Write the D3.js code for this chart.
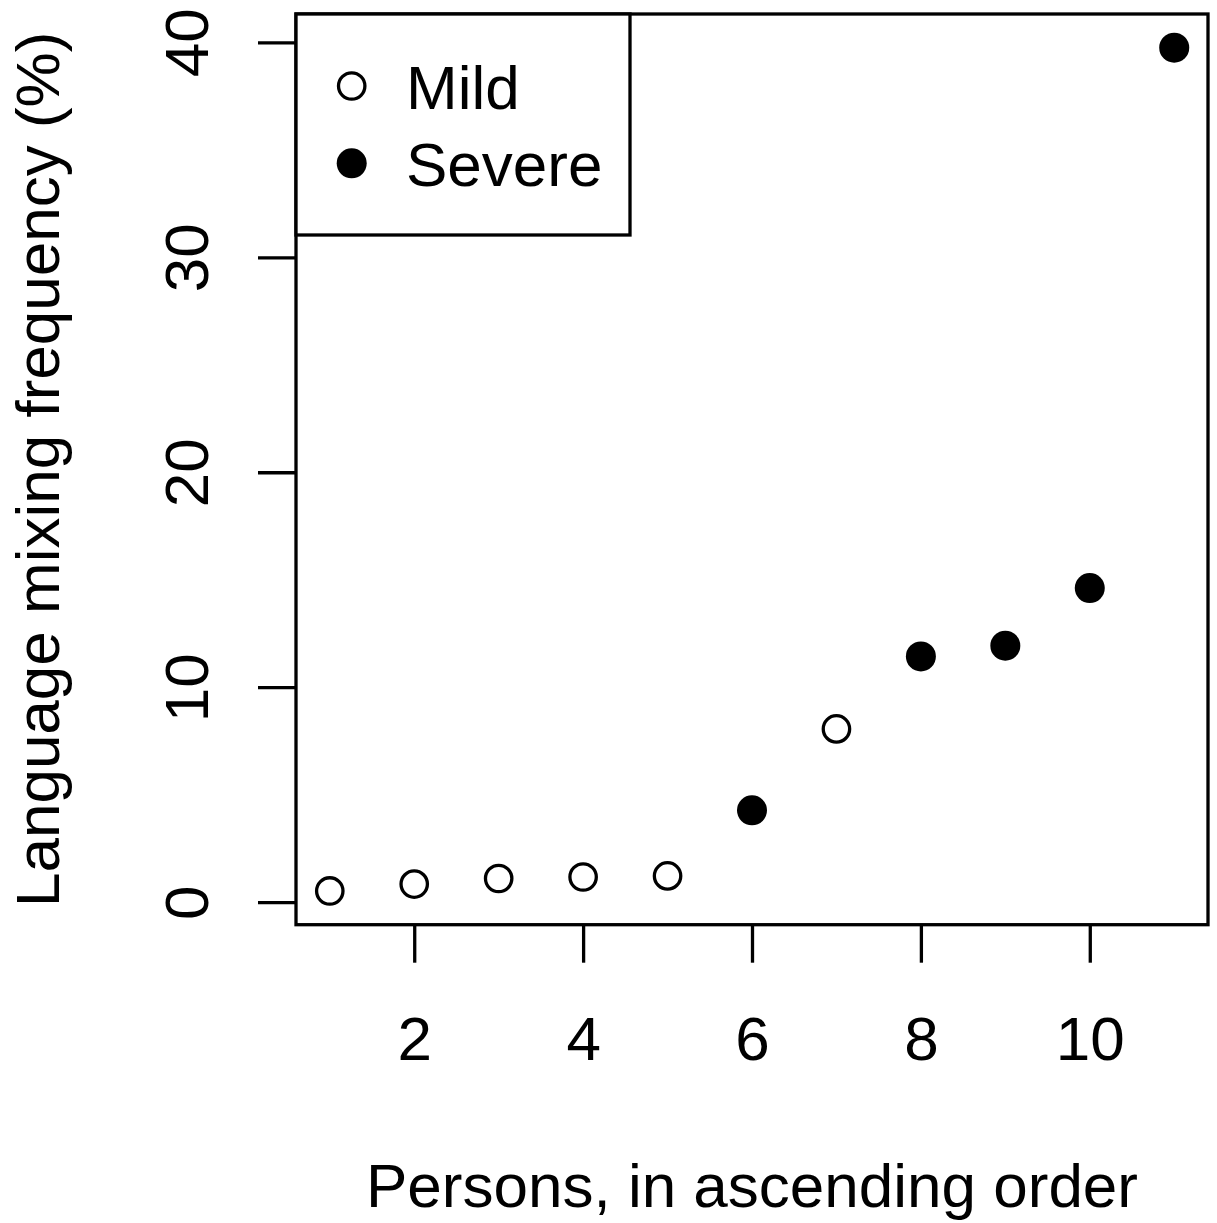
<!DOCTYPE html>
<html>
<head>
<meta charset="utf-8">
<script src="https://cdn.jsdelivr.net/npm/d3@7"></script>
<style>
  html, body { margin: 0; padding: 0; background: #fff; }
  svg { display: block; }
  text { font-family: "Liberation Sans", Arial, sans-serif; fill: #000; }
</style>
</head>
<body>
<svg id="chart" width="1217" height="1223"></svg>
<script>
// ---- data ----
const persons = [1, 2, 3, 4, 5, 6, 7, 8, 9, 10, 11];
const frequency = [0.52, 0.84, 1.10, 1.17, 1.22, 4.27, 8.06, 11.43, 11.93, 14.61, 39.75];
const severity = ["Mild", "Mild", "Mild", "Mild", "Mild", "Severe", "Mild", "Severe", "Severe", "Severe", "Severe"];
const legendLabels = ["Mild", "Severe"];
const xTickValues = [2, 4, 6, 8, 10];
const yTickValues = [0, 10, 20, 30, 40];
const xTitle = "Persons, in ascending order";
const yTitle = "Language mixing frequency (%)";

// ---- layout ----
const box = { left: 296, right: 1208, top: 14, bottom: 924.7 };
const fontSize = 62;
const lw = 3.3;

const svg = d3.select("#chart");
svg.append("rect").attr("width", 1217).attr("height", 1223).attr("fill", "#fff");

// R-style 4% range extension
function extend(ext) {
  const pad = (ext[1] - ext[0]) * 0.04;
  return [ext[0] - pad, ext[1] + pad];
}
const x = d3.scaleLinear().domain(extend(d3.extent(persons))).range([box.left, box.right]);
const y = d3.scaleLinear().domain(extend(d3.extent(frequency))).range([box.bottom, box.top]);

// ---- axes ----
const xAxis = svg.append("g")
  .attr("transform", `translate(0,${box.bottom})`)
  .call(d3.axisBottom(x).tickValues(xTickValues).tickSize(38).tickSizeOuter(0).tickFormat(d3.format("d")));
xAxis.select(".domain").remove();
xAxis.selectAll(".tick line").attr("stroke", "#000").attr("stroke-width", lw);
xAxis.selectAll(".tick text")
  .attr("y", 135.3).attr("dy", null)
  .attr("font-size", fontSize).attr("font-family", "Liberation Sans, Arial, sans-serif")
  .attr("fill", "#000");

const yAxis = svg.append("g")
  .attr("transform", `translate(${box.left},0)`)
  .call(d3.axisLeft(y).tickValues(yTickValues).tickSize(38).tickSizeOuter(0).tickFormat(d3.format("d")));
yAxis.select(".domain").remove();
yAxis.selectAll(".tick line").attr("stroke", "#000").attr("stroke-width", lw);
yAxis.selectAll(".tick text")
  .attr("transform", "rotate(-90)")
  .attr("x", 0).attr("y", -88).attr("dy", null)
  .attr("text-anchor", "middle")
  .attr("font-size", fontSize).attr("font-family", "Liberation Sans, Arial, sans-serif")
  .attr("fill", "#000");

// ---- plot box ----
svg.append("rect")
  .attr("x", box.left).attr("y", box.top)
  .attr("width", box.right - box.left).attr("height", box.bottom - box.top)
  .attr("fill", "none").attr("stroke", "#000").attr("stroke-width", lw);

// ---- points ----
const data = persons.map((p, i) => ({ p, v: frequency[i], g: severity[i] }));
function drawPoint(sel) {
  sel.attr("r", d => d.g === "Severe" ? 15 : 13.2)
    .attr("fill", d => d.g === "Severe" ? "#000" : "#fff")
    .attr("stroke", d => d.g === "Severe" ? "none" : "#000")
    .attr("stroke-width", lw);
}
svg.append("g").selectAll("circle").data(data).join("circle")
  .attr("cx", d => x(d.p)).attr("cy", d => y(d.v))
  .call(drawPoint);

// ---- legend ----
const legendBox = { x0: box.left, y0: box.top, x1: 630, y1: 235 };
svg.append("rect")
  .attr("x", legendBox.x0).attr("y", legendBox.y0)
  .attr("width", legendBox.x1 - legendBox.x0).attr("height", legendBox.y1 - legendBox.y0)
  .attr("fill", "#fff").attr("stroke", "#000").attr("stroke-width", lw);
const legendY = d3.scalePoint().domain(legendLabels).range([86, 163.3]);
const lg = svg.append("g").selectAll("g").data(legendLabels).join("g")
  .attr("transform", d => `translate(0,${legendY(d)})`);
lg.append("circle").attr("cx", 351.7).attr("cy", 0)
  .datum(d => ({ g: d })).call(drawPoint);
lg.append("text").attr("x", 406).attr("y", 23)
  .attr("font-size", fontSize).text(d => d);

// ---- titles ----
svg.append("text")
  .attr("x", (box.left + box.right) / 2).attr("y", 1206.7)
  .attr("text-anchor", "middle").attr("font-size", fontSize)
  .text(xTitle);
svg.append("text")
  .attr("transform", `translate(59,${(box.top + box.bottom) / 2}) rotate(-90)`)
  .attr("text-anchor", "middle").attr("font-size", fontSize)
  .text(yTitle);
</script>
</body>
</html>
